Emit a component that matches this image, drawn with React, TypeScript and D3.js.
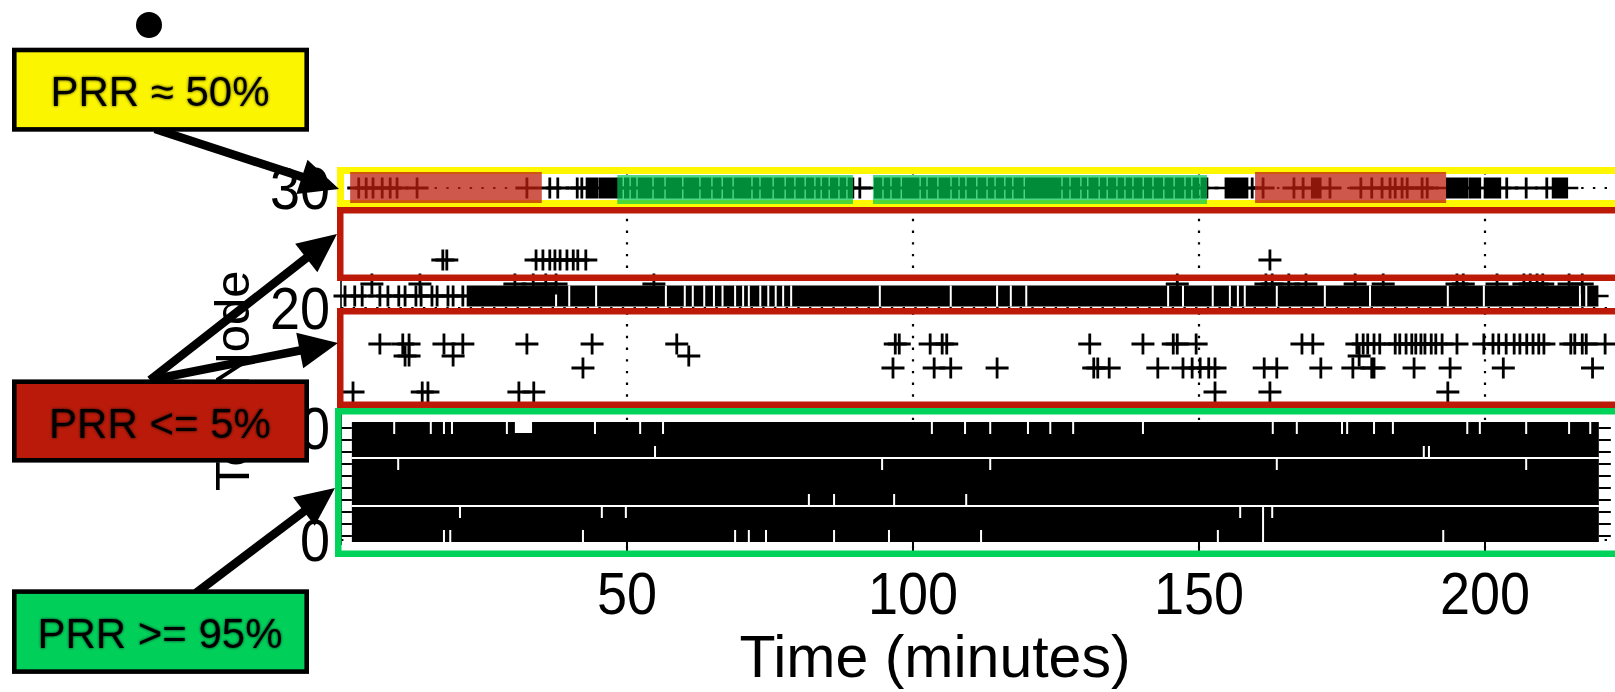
import React from 'react';
import * as d3 from 'd3';

const W = 1615;
const H = 692;

// ---- axes / labels ----
const xTicks = [50, 100, 150, 200];
const yTicks = [0, 10, 20, 30];
const xLabel = 'Time (minutes)';
const yLabel = 'Test Node';
const labelMid = 'PRR \u2248 50%';
const labelBad = 'PRR <= 5%';
const labelGood = 'PRR >= 95%';

// ---- node 30 (PRR ~ 50%) ----
const node30Marks = [3.1, 4.4, 5.6, 7.2, 8.6, 9.8, 13.3, 32.5, 36.5, 37.9, 41.3, 42.1, 90.7, 159.3, 161.2, 166.6, 168.2, 172.9, 178.3, 180.2, 182.0, 183.4, 184.3, 185.5, 186.4, 189.0, 189.9, 203.8, 207.2, 210.8];
const node30Runs = [
  [43.0, 44.8], [45.3, 49.0], [49.7, 50.2], [50.9, 51.4], [52.1, 54.2], [54.9, 56.3], [57.0, 59.4], [60.1, 62.4],
  [63.1, 64.5], [65.2, 66.3], [67.0, 68.2], [68.9, 71.5], [72.2, 72.9], [73.6, 75.2], [75.9, 77.3], [78.0, 79.0],
  [79.7, 80.8], [81.5, 82.5], [83.2, 83.6], [84.3, 85.0], [85.7, 86.7], [87.4, 88.1], [88.8, 89.5],
  [93.4, 94.4], [95.1, 95.8], [96.5, 97.6], [98.3, 100.9], [101.6, 102.1], [102.8, 104.0], [104.7, 106.3],
  [107.0, 107.7], [108.4, 108.9], [109.6, 110.8], [111.5, 112.6], [113.3, 114.0], [114.7, 115.7], [116.4, 117.1],
  [117.8, 119.1], [119.8, 125.7], [126.4, 127.1], [127.8, 129.0], [129.7, 130.2], [130.9, 132.2], [132.9, 133.6],
  [134.3, 135.3], [136.0, 136.7], [137.4, 138.1], [138.8, 139.9], [140.6, 141.6], [142.3, 143.5], [144.2, 145.3],
  [146.0, 147.2], [147.9, 148.4], [149.1, 149.8], [150.5, 151.4],
  [154.7, 158.4], [169.8, 171.2], [193.4, 196.9], [197.4, 199.1], [200.0, 202.6], [211.9, 214.3],
];
const badPeriods = [[1.6, 35.1], [159.8, 193.2]];
const goodPeriods = [[48.3, 89.5], [93.0, 151.4]];

// ---- sparse nodes (PRR <= 5%) ----
const node24Marks = [17.8, 18.5, 34.1, 35.3, 36.5, 37.4, 38.3, 39.5, 40.6, 41.4, 42.8, 162.4];
const node22Marks = [5.4, 13.8, 30.4, 33.6, 35.8, 37.6, 54.7, 146.2, 161.7, 162.8, 165.7, 168.7, 177.3, 182.2, 195.1, 196.2, 202.1, 206.8, 207.9, 209.1, 210.1, 214.7, 217.0];
const node17Marks = [6.8, 10.8, 11.9, 18.0, 21.3, 32.5, 43.9, 58.7, 96.9, 97.6, 103.0, 105.1, 105.9, 130.9, 140.2, 145.5, 146.2, 149.5, 168.0, 169.9, 177.6, 178.7, 179.5, 180.6, 181.6, 184.3, 185.1, 186.2, 187.2, 187.9, 188.8, 189.5, 190.6, 191.4, 192.5, 195.1, 199.8, 201.4, 202.4, 203.7, 205.1, 206.1, 207.3, 208.4, 209.4, 210.3, 215.0, 215.7, 217.0, 217.7, 221.0];
const node16Marks = [11.2, 11.9, 19.6, 60.8, 178.0];
const node15Marks = [42.3, 96.5, 103.7, 106.6, 114.7, 131.6, 132.3, 134.3, 142.8, 147.2, 148.8, 150.2, 151.7, 152.8, 161.4, 163.6, 171.3, 176.9, 180.2, 180.6, 187.6, 193.9, 203.2, 218.8];
const node13Marks = [2.1, 14.2, 15.2, 31.1, 33.7, 152.8, 162.4, 193.5];

// ---- node 21 (dense) ----
const node21Marks = [0.7, 2.4, 3.7, 6.8, 8.2, 10.1, 11.2, 13.1, 14.0, 15.9, 16.8, 18.7, 19.6, 21.3];
const node21Run = [22.2, 219.6];
const node21Losses = [37.6, 39.9, 44.6, 56.8, 60.1, 61.5, 63.5, 65.2, 66.7, 68.9, 70.3, 71.3, 73.3, 74.7, 76.0, 77.3, 78.7, 94.2, 106.6, 114.7, 117.1, 119.8, 144.6, 147.2, 152.4, 155.4, 156.8, 158.0, 163.6, 172.0, 179.9, 193.5, 199.8, 216.6, 217.7];

// ---- nodes 1..10 (PRR >= 95%) ----
const blockNodes = [1, 2, 3, 4, 5, 6, 7, 8, 9, 10];
const blockSpan = [1.9, 219.9];
const blockBreaks = [3.5, 7.5];
const node10Outage = [30.4, 33.4];
const lossNode10 = [9.3, 15.7, 18.0, 19.4, 29.0, 44.4, 52.3, 56.3, 103.3, 109.1, 113.5, 120.1, 124.0, 128.0, 140.2, 162.9, 167.1, 175.0, 175.9, 180.6, 183.9, 196.9, 199.1, 207.2, 214.7, 218.4];
const lossNode8 = [54.9, 189.3, 190.2];
const lossNode7 = [10.0, 94.6, 113.5, 163.6, 207.2];
const lossNode4 = [81.8, 86.2, 96.7, 109.3];
const lossNode3 = [20.8, 45.6, 49.8, 157.2, 161.2, 162.8];
const lossNode2 = [161.2];
const lossNode1 = [18.0, 19.1, 42.3, 68.9, 71.3, 74.3, 86.2, 95.8, 111.9, 153.3, 161.2, 192.7];

const FONT = '"Liberation Sans", Arial, Helvetica, sans-serif';

const x = d3.scaleLinear().domain([0, 200]).range([341, 1485]);
const y = d3.scaleLinear().domain([0, 1, 30]).range([540, 536, 188]);

const AX = 11.5;
const AY = 10.5;
const RIGHT = 1630;
const TICK_FS = 54;
const TICK_SY = 1.1;

function plusPath(t: number, n: number) {
  const cx = x(t);
  const cy = y(n);
  return `M${cx - AX},${cy}H${cx + AX}M${cx},${cy - AY}V${cy + AY}`;
}

function Arrow({ x1, y1, x2, y2 }: { x1: number; y1: number; x2: number; y2: number }) {
  const dx = x2 - x1;
  const dy = y2 - y1;
  const len = Math.hypot(dx, dy);
  const ux = dx / len;
  const uy = dy / len;
  const L = 39;
  const HW = 18;
  const bx = x2 - ux * L;
  const by = y2 - uy * L;
  const px = -uy;
  const py = ux;
  return (
    <g>
      <line x1={x1} y1={y1} x2={bx + ux * 4} y2={by + uy * 4} stroke="#000" strokeWidth={8.5} />
      <polygon points={`${x2},${y2} ${bx + px * HW},${by + py * HW} ${bx - px * HW},${by - py * HW}`} fill="#000" />
    </g>
  );
}

function LabelBox({ yTop, h, fill, text, baseline }: { yTop: number; h: number; fill: string; text: string; baseline: number }) {
  return (
    <g>
      <rect x={14.3} y={yTop} width={292.4} height={h} fill={fill} stroke="#000" strokeWidth={4.6} />
      <text x={160} y={baseline} textAnchor="middle" fontFamily={FONT} fontSize={42} fill="#000" filter="url(#glow)">
        {text}
      </text>
    </g>
  );
}

export default function App() {
  const sparseRows: [number, number[]][] = [
    [30, node30Marks], [24, node24Marks], [22, node22Marks], [21, node21Marks],
    [17, node17Marks], [16, node16Marks], [15, node15Marks], [13, node13Marks],
  ];
  const runRows: [number, number[][]][] = [[30, node30Runs], [21, [node21Run]]];
  const blockLosses: [number, number[]][] = [
    [10, lossNode10], [8, lossNode8], [7, lossNode7], [4, lossNode4], [3, lossNode3], [2, lossNode2], [1, lossNode1],
  ];
  const rowHalf = (y(1) - y(2)) / 2;
  const y30 = y(30);

  return (
    <svg width={W} height={H} style={{ position: 'absolute', left: 0, top: 0, background: '#fff' }}>
      <defs>
        <filter id="glow" x="-10%" y="-40%" width="120%" height="180%">
          <feGaussianBlur in="SourceAlpha" stdDeviation="1.8" result="b" />
          <feComponentTransfer in="b" result="b2">
            <feFuncA type="linear" slope="0.75" />
          </feComponentTransfer>
          <feMerge>
            <feMergeNode in="b2" />
            <feMergeNode in="SourceGraphic" />
          </feMerge>
        </filter>
      </defs>
      <rect x={0} y={0} width={W} height={H} fill="#fff" />

      {/* grid */}
      <g stroke="#000" strokeWidth={2.2} strokeDasharray="2.4 9.3" fill="none">
        {xTicks.map((t) => (
          <line key={'gx' + t} x1={x(t)} x2={x(t)} y1={172} y2={548} />
        ))}
        {yTicks.map((n) => (
          <line key={'gy' + n} x1={x(0)} x2={RIGHT} y1={y(n)} y2={y(n)} />
        ))}
      </g>
      {/* y axis line and x ticks */}
      <line x1={x(0)} x2={x(0)} y1={175} y2={545} stroke="#000" strokeWidth={1.6} />
      {xTicks.map((t) => (
        <line key={'tx' + t} x1={x(t)} x2={x(t)} y1={541} y2={553} stroke="#000" strokeWidth={2} />
      ))}

      {/* dense block nodes 1..10 */}
      <g>
        {blockNodes.map((n) => (
          <g key={'bn' + n}>
            <rect x={x(blockSpan[0])} width={x(blockSpan[1]) - x(blockSpan[0])} y={y(n) - rowHalf} height={rowHalf * 2} fill="#000" />
            <line x1={x(blockSpan[0]) - 13} x2={x(blockSpan[0])} y1={y(n)} y2={y(n)} stroke="#000" strokeWidth={2} />
            <line x1={x(blockSpan[1])} x2={x(blockSpan[1]) + 12} y1={y(n)} y2={y(n)} stroke="#000" strokeWidth={2} />
          </g>
        ))}
        {blockBreaks.map((b) => (
          <rect key={'br' + b} x={x(blockSpan[0])} width={x(blockSpan[1]) - x(blockSpan[0])} y={y(b) - 1} height={2} fill="#fff" />
        ))}
        {blockLosses.map(([n, ts]) =>
          ts.map((t, i) => (
            <rect key={`bl${n}-${i}`} x={x(t) - 1} width={2} y={y(n) - rowHalf} height={rowHalf * 2} fill="#fff" />
          ))
        )}
        <rect x={x(node10Outage[0])} width={x(node10Outage[1]) - x(node10Outage[0])} y={y(10) - rowHalf} height={rowHalf * 2 - 1} fill="#fff" />
      </g>

      {/* runs of continuous reception */}
      {runRows.map(([n, runs]) =>
        runs.map((r, i) => (
          <g key={`run${n}-${i}`}>
            <rect x={x(r[0]) - 1.3} width={x(r[1]) - x(r[0]) + 2.6} y={y(n) - AY} height={AY * 2} fill="#000" />
            <line x1={x(r[0]) - AX} x2={x(r[1]) + AX} y1={y(n)} y2={y(n)} stroke="#000" strokeWidth={2.6} />
          </g>
        ))
      )}
      {node21Losses.map((t, i) => (
        <rect key={'l21' + i} x={x(t) - 1} width={2} y={y(21) - AY} height={AY * 2} fill="#fff" />
      ))}

      {/* individual receptions */}
      <g stroke="#000" strokeWidth={2.8} fill="none">
        {sparseRows.map(([n, ts]) => ts.map((t, i) => <path key={`p${n}-${i}`} d={plusPath(t, n)} />))}
      </g>

      {/* highlight boxes */}
      <g fill="none">
        <rect x={340.5} y={170.5} width={RIGHT - 340} height={33} stroke="#fff700" strokeWidth={7} />
        <rect x={340.25} y={210.25} width={RIGHT - 340} height={67.5} stroke="#bd1909" strokeWidth={6.5} />
        <rect x={340.25} y={311.25} width={RIGHT - 340} height={93.5} stroke="#bd1909" strokeWidth={6.5} />
        <rect x={338.25} y={411.25} width={RIGHT - 340} height={142.5} stroke="#00d25a" strokeWidth={6.5} />
      </g>

      {/* PRR periods for node 30 */}
      {badPeriods.map((p, i) => (
        <rect key={'bad' + i} x={x(p[0])} width={x(p[1]) - x(p[0])} y={y30 - 16} height={31} fill="#be1e0f" fillOpacity={0.74} />
      ))}
      {goodPeriods.map((p, i) => (
        <rect key={'good' + i} x={x(p[0])} width={x(p[1]) - x(p[0])} y={y30 - 13} height={29} fill="#00c850" fillOpacity={0.7} />
      ))}

      {/* axis text */}
      <g fontFamily={FONT} fill="#000">
        {yTicks.map((n) => (
          <text
            key={'yl' + n}
            transform={`translate(330,${y(n) + (0.716 * TICK_FS * TICK_SY) / 2}) scale(1,${TICK_SY})`}
            fontSize={TICK_FS}
            textAnchor="end"
          >
            {n}
          </text>
        ))}
        {xTicks.map((t) => (
          <text key={'xl' + t} transform={`translate(${x(t)},614) scale(1,${TICK_SY})`} fontSize={TICK_FS} textAnchor="middle">
            {t}
          </text>
        ))}
        <text x={935} y={677} fontSize={59} textAnchor="middle">
          {xLabel}
        </text>
        <text transform="translate(249,491) rotate(-90)" fontSize={49} textAnchor="start">
          {yLabel}
        </text>
      </g>

      {/* annotations */}
      <Arrow x1={155} y1={129} x2={339} y2={189} />
      <Arrow x1={150} y1={380} x2={337} y2={234} />
      <Arrow x1={150} y1={380} x2={338} y2={343} />
      <Arrow x1={196} y1={593} x2={335} y2={488} />

      <circle cx={149} cy={25} r={13} fill="#000" />
      <LabelBox yTop={50} h={79.4} fill="#fcf500" text={labelMid} baseline={106} />
      <LabelBox yTop={381.7} h={78.6} fill="#b91a0a" text={labelBad} baseline={438} />
      <LabelBox yTop={591.6} h={80} fill="#00d05a" text={labelGood} baseline={648} />
    </svg>
  );
}
